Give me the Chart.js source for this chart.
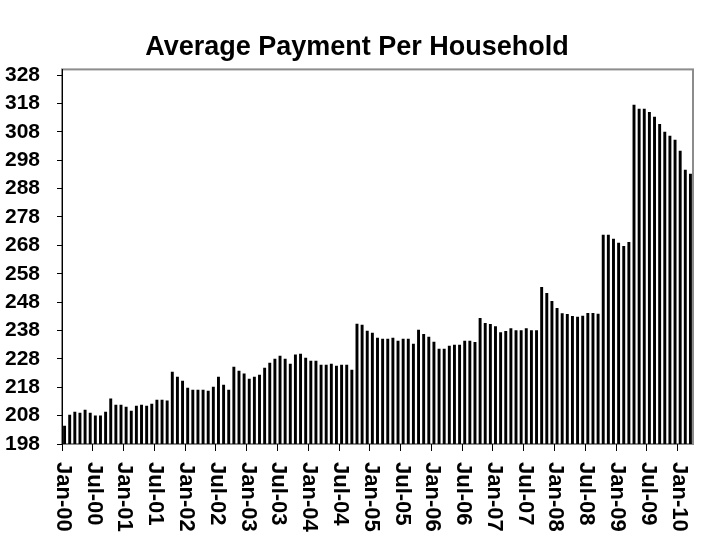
<!DOCTYPE html>
<html>
<head>
<meta charset="utf-8">
<script src="https://cdn.jsdelivr.net/npm/chart.js@4.4.0/dist/chart.umd.min.js"></script>
<style>
html,body{margin:0;padding:0;background:#fff;}
#wrap{width:702px;height:537px;position:relative;}
canvas{display:block;}
</style>
</head>
<body>
<div id="wrap"><canvas id="c" width="702" height="537"></canvas></div>
<script>
// ---- data ----
const monthNames = ['Jan','Feb','Mar','Apr','May','Jun','Jul','Aug','Sep','Oct','Nov','Dec'];
const yearLabels = ['00','01','02','03','04','05','06','07','08','09','10'];
const lastYearMonths = 3; // Jan-10 .. Mar-10
const categories = [];
yearLabels.forEach((yy, yi) => {
  const n = yi === yearLabels.length - 1 ? lastYearMonths : 12;
  for (let m = 0; m < n; m++) categories.push(monthNames[m] + '-' + yy);
});

const paymentValues = [
  204.4, 208.3, 209.4, 209.0, 210.1, 209.0, 208.0, 208.0, 209.4, 214.0, 211.8, 211.8,
  211.1, 209.7, 211.5, 211.8, 211.5, 212.2, 213.6, 213.6, 213.3, 223.5, 221.7, 220.3,
  217.8, 217.1, 217.1, 217.1, 216.8, 218.2, 221.7, 218.9, 217.1, 225.2, 223.8, 222.8,
  221.0, 221.7, 222.4, 224.9, 226.6, 228.0, 229.1, 228.0, 226.3, 229.5, 229.8, 228.4,
  227.3, 227.3, 225.9, 225.9, 226.3, 225.6, 225.9, 225.9, 224.2, 240.4, 240.0, 237.9,
  237.2, 235.4, 235.1, 235.1, 235.4, 234.4, 235.1, 235.1, 233.3, 238.3, 236.8, 235.8,
  234.0, 231.6, 231.6, 232.6, 233.0, 233.0, 234.4, 234.4, 233.9, 242.4, 240.6, 240.3,
  239.5, 237.4, 237.8, 238.8, 238.1, 238.1, 238.8, 238.1, 238.1, 253.3, 251.2, 248.4,
  245.9, 244.1, 243.8, 243.1, 242.8, 243.2, 244.2, 244.2, 243.9, 271.7, 271.7, 270.3,
  268.9, 267.8, 269.2, 317.5, 316.1, 316.1, 315.0, 313.3, 310.8, 308.0, 306.6, 305.2,
  301.3, 294.6, 293.2
];

const yTickValues = [198, 208, 218, 228, 238, 248, 258, 268, 278, 288, 298, 308, 318, 328];
const yMin = 198;
const yMax = 330;
const xLabelEvery = 6;
const chartTitle = 'Average Payment Per Household';

// ---- styles ----
const FONT = "'Liberation Sans', Arial, sans-serif";

const framePlugin = {
  id: 'frame',
  afterLayout(chart) {
    // centre the title a little right of the canvas centre, as in the original
    if (chart.titleBlock) chart.titleBlock.left = 21;
  },
  beforeDraw(chart) {
    const {ctx, chartArea: a} = chart;
    ctx.save();
    ctx.strokeStyle = '#8c8c8c';
    ctx.lineWidth = 2;
    ctx.strokeRect(a.left, a.top, a.right - a.left, a.bottom - a.top);
    ctx.restore();
  }
};

const xLabelPlugin = {
  id: 'xLabels',
  afterDraw(chart) {
    const {ctx, chartArea: a} = chart;
    const xs = chart.scales.x;
    ctx.save();
    ctx.fillStyle = '#000';
    ctx.font = 'bold 22px ' + FONT;
    ctx.textAlign = 'left';
    ctx.textBaseline = 'middle';
    for (let i = 0; i < categories.length; i += xLabelEvery) {
      const x = xs.getPixelForValue(i - 0.5);
      ctx.save();
      ctx.translate(x + 1, a.bottom + 18);
      ctx.rotate(Math.PI / 2);
      ctx.fillText(categories[i], 0, 0);
      ctx.restore();
    }
    ctx.restore();
  }
};

new Chart(document.getElementById('c'), {
  type: 'bar',
  data: {
    labels: categories,
    datasets: [{
      data: paymentValues,
      backgroundColor: '#000',
      borderWidth: 0,
      barPercentage: 0.57,
      categoryPercentage: 1.0
    }]
  },
  options: {
    responsive: false,
    animation: false,
    devicePixelRatio: 1,
    layout: {padding: {left: 0, right: 9, top: 0, bottom: 0}},
    plugins: {
      legend: {display: false},
      tooltip: {enabled: false},
      title: {
        display: true,
        text: chartTitle,
        color: '#000',
        font: {family: FONT, size: 27, weight: 'bold', lineHeight: 1.2},
        padding: {top: 31, bottom: 6}
      }
    },
    scales: {
      x: {
        type: 'category',
        offset: true,
        grid: {
          offset: true,
          drawOnChartArea: false,
          drawTicks: true,
          tickLength: 7,
          lineWidth: 1,
          color: (c) => (c.index % xLabelEvery === 0 ? '#000' : 'rgba(0,0,0,0)')
        },
        border: {display: false},
        ticks: {display: false, autoSkip: false},
        afterFit(s) { s.height = 93; }
      },
      y: {
        min: yMin,
        max: yMax,
        afterBuildTicks(s) { s.ticks = yTickValues.map(v => ({value: v})); },
        grid: {drawOnChartArea: false, drawTicks: true, tickLength: 5, color: '#000', lineWidth: 1},
        border: {display: true, color: '#000', width: 1},
        ticks: {color: '#000', padding: 17, font: {family: FONT, size: 21, weight: 'bold'}},
        afterFit(s) { s.width = 62; }
      }
    }
  },
  plugins: [framePlugin, xLabelPlugin]
});
</script>
</body>
</html>
